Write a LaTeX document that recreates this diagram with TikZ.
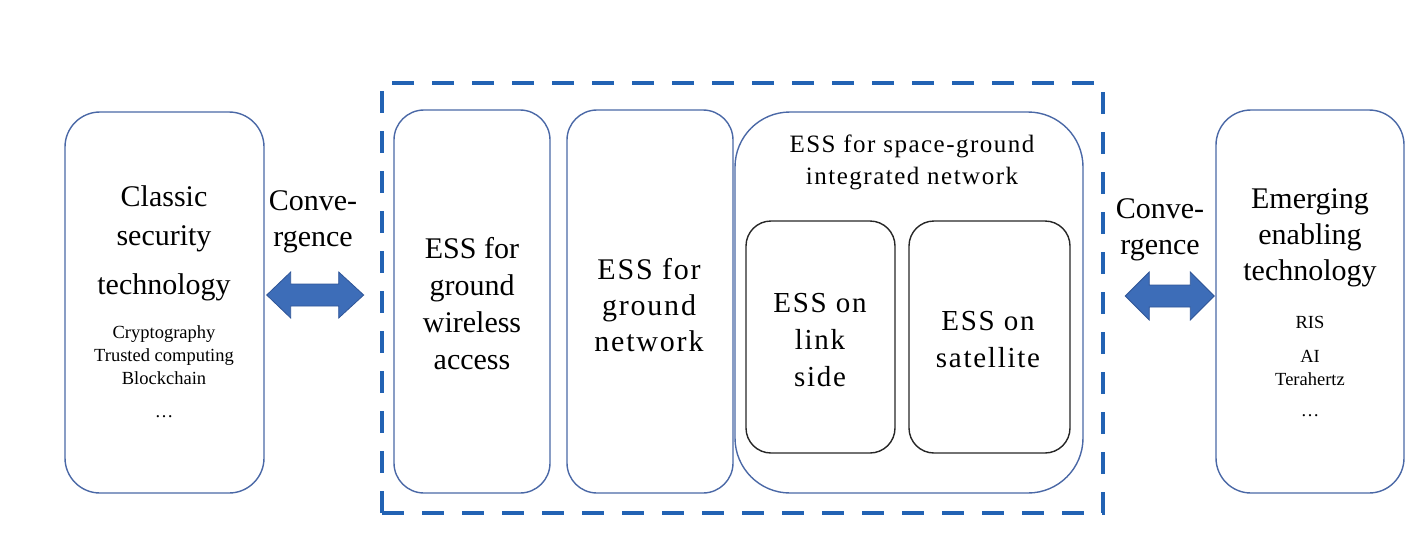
\documentclass[tikz,border=0pt]{standalone}
\usepackage{fontspec}
\setmainfont{Liberation Serif}
\newfontfamily\lsfont[LetterSpace=6]{Liberation Serif}
\usetikzlibrary{calc}
\definecolor{boxblue}{HTML}{4A68A6}
\definecolor{dashblue}{HTML}{2262B3}
\definecolor{arrowfill}{HTML}{3D6DB8}
\definecolor{arrowline}{HTML}{2F5597}
\tikzset{
  bluebox/.style={draw=boxblue, line width=1.4pt, inner sep=0pt},
  blackbox/.style={draw=black!85, line width=1.4pt, inner sep=0pt, rounded corners=25pt},
  dashframe/.style={draw=dashblue, line width=4.5pt, dash pattern=on 22pt off 18pt, inner sep=0pt},
  blockarrow/.style={fill=arrowfill, draw=arrowline, line width=0.8pt, line join=miter},
  bigtxt/.style={align=center, font=\fontsize{30}{37}\selectfont, inner sep=0pt},
  lstxt/.style={align=center, font=\lsfont\fontsize{29}{37}\selectfont, inner sep=0pt},
  smalltxt/.style={align=center, font=\fontsize{18.5}{23}\selectfont, inner sep=0pt}
}
\begin{document}
\begin{tikzpicture}[x=1pt,y=-1pt]
\useasboundingbox (0,0) rectangle (1426,542);
% frame
\node[dashframe, minimum width=721pt, minimum height=430pt] (dash) at (742.5,298) {};
% boxes
\node[bluebox, rounded corners=35pt, minimum width=199pt, minimum height=381pt] (cls) at (164.5,302.5) {};
\node[bluebox, rounded corners=30pt, minimum width=156pt, minimum height=383pt] (wga) at (472,301.5) {};
\node[bluebox, rounded corners=30pt, minimum width=166pt, minimum height=383pt] (gn) at (650,301.5) {};
\node[bluebox, rounded corners=55pt, minimum width=348pt, minimum height=381pt] (sgi) at (909,302.5) {};
\node[blackbox, minimum width=149pt, minimum height=232pt] (link) at (820.5,337) {};
\node[blackbox, minimum width=161pt, minimum height=232pt] (sat) at (989.5,337) {};
\node[bluebox, rounded corners=35pt, minimum width=188pt, minimum height=383pt] (emg) at (1310,301.5) {};
% texts
\node[bigtxt, font=\fontsize{30}{39}\selectfont] (clsT) at (164,243) {Classic\\security\\[10pt]technology};
\node[smalltxt] (clsS) at (164,372) {Cryptography\\Trusted computing\\Blockchain\\[10pt]\dots};
\node[bigtxt, font=\fontsize{30}{36}\selectfont] (cvL) at (313,222) {Conve-\\rgence};
\node[bigtxt] (wgaT) at (472,304) {ESS for\\ground\\wireless\\access};
\node[lstxt, font=\lsfont\fontsize{30}{36}\selectfont] (gnT) at (649,305) {ESS for\\ground\\network};
\node[lstxt, font=\lsfont\fontsize{25}{32}\selectfont] (sgiT) at (912,162) {ESS for space-ground\\integrated network};
\node[lstxt] (linkT) at (820,340) {ESS on\\link\\side};
\node[lstxt] (satT) at (988,340) {ESS on\\satellite};
\node[bigtxt, font=\fontsize{30}{36}\selectfont] (cvR) at (1160,230) {Conve-\\rgence};
\node[bigtxt, font=\fontsize{30}{36}\selectfont] (emgT) at (1310,238) {Emerging\\enabling\\technology};
\node[smalltxt] (emgS) at (1310,366) {RIS\\[11pt]AI\\Terahertz\\[8pt]\dots};
% arrows
\coordinate (la) at ($(cls.east)+(2,-7.5)$);
\coordinate (rb) at ($(dash.east)+(20,-2)$);
\draw[blockarrow] (la) -- ++(24,-23) -- ++(0,12) -- ++(48,0) -- ++(0,-12) -- ++(25,23) -- ++(-25,23) -- ++(0,-12) -- ++(-48,0) -- ++(0,12) -- cycle;
\draw[blockarrow] (rb) -- ++(24,-24) -- ++(0,13) -- ++(41,0) -- ++(0,-13) -- ++(24,24) -- ++(-24,24) -- ++(0,-13) -- ++(-41,0) -- ++(0,13) -- cycle;
\end{tikzpicture}
\end{document}
